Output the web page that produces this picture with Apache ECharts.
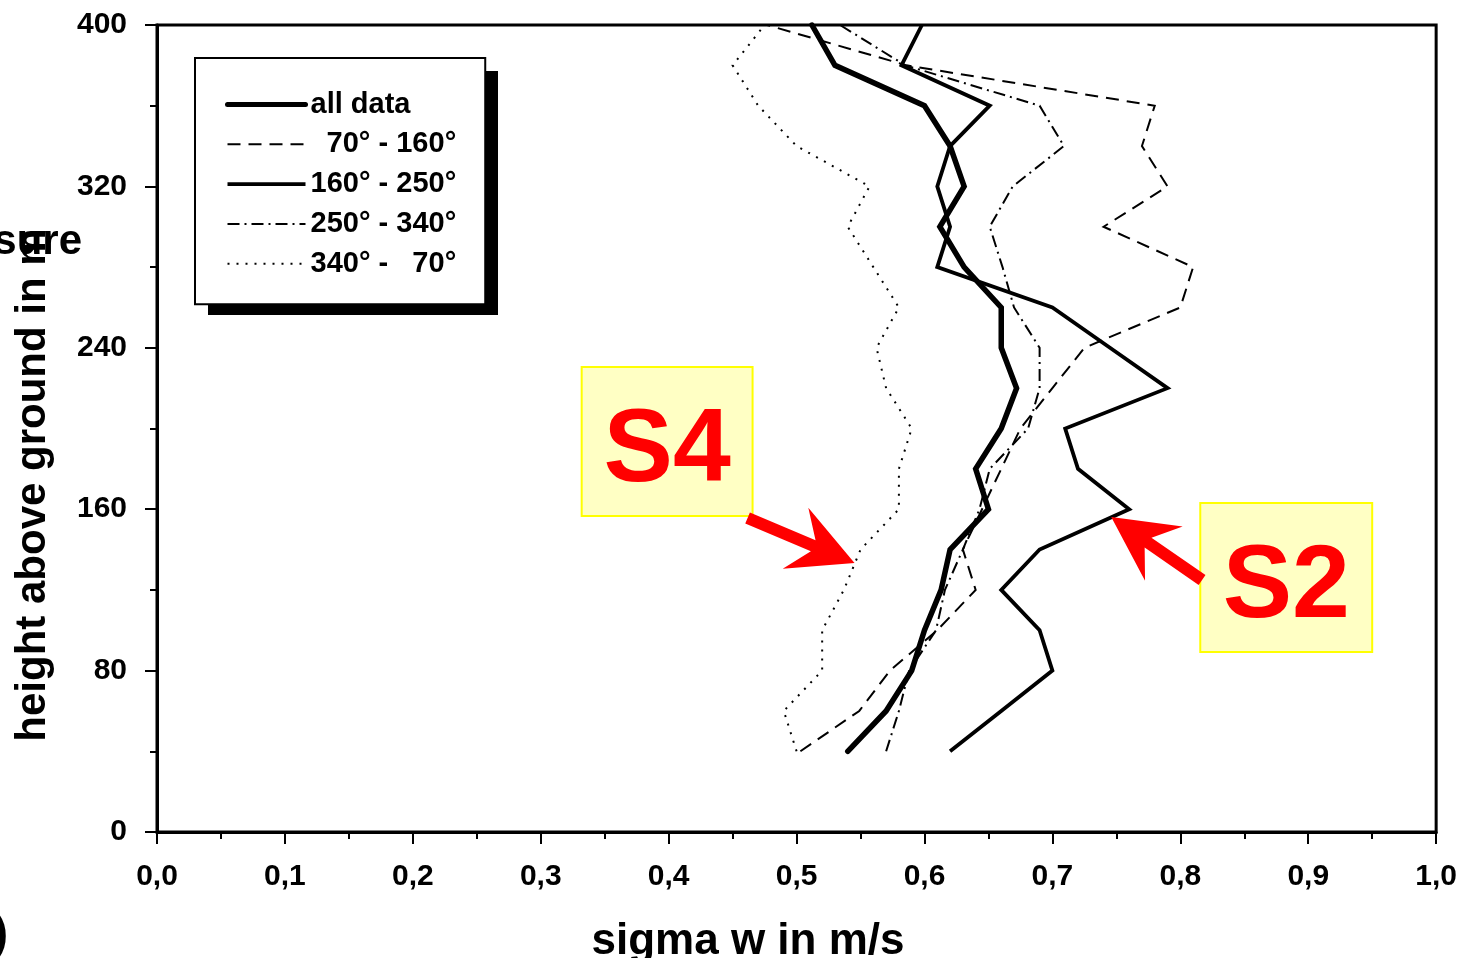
<!DOCTYPE html>
<html>
<head>
<meta charset="utf-8">
<script src="https://cdn.jsdelivr.net/npm/echarts@6/dist/echarts.min.js"></script>
<style>
  html, body { margin: 0; padding: 0; background: #fff; }
  #chart { width: 1460px; height: 958px; }
</style>
</head>
<body>
<div id="chart"></div>
<script>
// heights in m, one value per profile level
const heights = [40, 60, 80, 100, 120, 140, 160, 180, 200, 220, 240, 260, 280, 300, 320, 340, 360, 380, 400];

// sigma w (m/s) per height
const allData    = [0.54, 0.57, 0.59, 0.60, 0.613, 0.62, 0.65, 0.64, 0.66, 0.672, 0.66, 0.66, 0.631, 0.612, 0.631, 0.62, 0.60, 0.53, 0.512];
const dir70_160  = [0.503, 0.549, 0.573, 0.61, 0.64, 0.63, 0.645, 0.66, 0.675, 0.70, 0.725, 0.80, 0.81, 0.74, 0.79, 0.77, 0.78, 0.586, 0.477];
const dir160_250 = [0.62, 0.66, 0.70, 0.69, 0.66, 0.69, 0.76, 0.72, 0.71, 0.79, 0.745, 0.70, 0.61, 0.62, 0.61, 0.62, 0.651, 0.582, 0.598];
const dir250_340 = [0.57, 0.58, 0.588, 0.609, 0.616, 0.63, 0.643, 0.651, 0.681, 0.69, 0.69, 0.67, 0.661, 0.651, 0.669, 0.709, 0.69, 0.585, 0.534];
const dir340_70  = [0.50, 0.49, 0.52, 0.52, 0.537, 0.55, 0.58, 0.58, 0.59, 0.57, 0.5625, 0.58, 0.56, 0.54, 0.557, 0.50, 0.47, 0.45, 0.475];

const seriesNames = ["all data", "  70° - 160°", "160° - 250°", "250° - 340°", "340° -   70°"];
const lineWidths = [5.5, 2, 3.8, 2, 2];
const lineTypes = ["solid", [13, 8], "solid", [12, 5, 2, 5], [2, 7]];

// annotations in data units: box corners, arrow tail -> tip
const labelS4 = { text: "S4", box: [0.332, 230.5, 0.4656, 156.6], tail: [0.4617, 155.6], tip: [0.5453, 133.3] };
const labelS2 = { text: "S2", box: [0.8156, 163.1, 0.95, 89.2], tail: [0.817, 124.9], tip: [0.746, 156.1] };

const font = "'Liberation Sans', Arial, sans-serif";

function pairs(xs) {
  return heights.map((h, i) => [xs[i], h]);
}

function lineSeries(i, values) {
  return {
    name: seriesNames[i],
    type: "line",
    symbol: "none",
    data: pairs(values),
    lineStyle: { color: "#000", width: lineWidths[i], type: lineTypes[i], cap: i === 0 ? "round" : "butt", join: "miter" },
    itemStyle: { color: "#000" },
    z: 3
  };
}

const chart = echarts.init(document.getElementById("chart"));

chart.setOption({
  animation: false,
  backgroundColor: "#fff",
  grid: {
    left: 157, right: 23, top: 25, bottom: 126,
    show: true, borderColor: "#000", borderWidth: 3, backgroundColor: "transparent"
  },
  legend: {
    orient: "vertical",
    left: 195, top: 58,
    padding: [32, 29, 26, 30],
    itemGap: 10.8, itemWidth: 78, itemHeight: 30,
    backgroundColor: "#fff", borderColor: "#000", borderWidth: 2,
    selectedMode: false,
    z: 6,
    textStyle: { fontSize: 29, fontWeight: "bold", color: "#000", fontFamily: font },
    data: seriesNames.map((n, i) => ({
      name: n,
      itemStyle: { color: "rgba(0,0,0,0)", borderWidth: 0, opacity: 0 },
      lineStyle: { color: "#000", width: i === 0 ? 5 : lineWidths[i], type: lineTypes[i] }
    }))
  },
  xAxis: {
    type: "value", min: 0, max: 1, interval: 0.1,
    axisLine: { lineStyle: { color: "#000", width: 3 } },
    axisTick: { inside: false, length: 12, lineStyle: { color: "#000", width: 2 } },
    minorTick: { show: true, splitNumber: 2, length: 7, lineStyle: { color: "#000", width: 2 } },
    splitLine: { show: false },
    axisLabel: {
      margin: 30, color: "#000", fontSize: 30, fontWeight: "bold", fontFamily: font,
      formatter: v => v.toFixed(1).replace(".", ",")
    }
  },
  yAxis: {
    type: "value", min: 0, max: 400, interval: 80,
    axisLine: { lineStyle: { color: "#000", width: 3 } },
    axisTick: { inside: false, length: 12, lineStyle: { color: "#000", width: 2 } },
    minorTick: { show: true, splitNumber: 2, length: 7, lineStyle: { color: "#000", width: 2 } },
    splitLine: { show: false },
    axisLabel: { margin: 30, color: "#000", fontSize: 30, fontWeight: "bold", fontFamily: font }
  },
  series: [
    lineSeries(0, allData),
    lineSeries(1, dir70_160),
    lineSeries(2, dir160_250),
    lineSeries(3, dir250_340),
    lineSeries(4, dir340_70)
  ]
});

// arrow polygon from tail to tip with swept-back head
function arrowPoints(t, p, shaftW, headLen, headW) {
  const dx = p[0] - t[0], dy = p[1] - t[1];
  const len = Math.sqrt(dx * dx + dy * dy);
  const ux = dx / len, uy = dy / len;
  const nx = -uy, ny = ux;
  const c = [p[0] - ux * headLen, p[1] - uy * headLen];
  const k = [p[0] - ux * headLen * 0.7, p[1] - uy * headLen * 0.7];
  const s = shaftW / 2;
  return [
    [t[0] + nx * s, t[1] + ny * s],
    [k[0] + nx * s, k[1] + ny * s],
    [c[0] + nx * headW, c[1] + ny * headW],
    p,
    [c[0] - nx * headW, c[1] - ny * headW],
    [k[0] - nx * s, k[1] - ny * s],
    [t[0] - nx * s, t[1] - ny * s]
  ];
}

function annotation(a) {
  const p0 = chart.convertToPixel({ gridIndex: 0 }, [a.box[0], a.box[1]]);
  const p1 = chart.convertToPixel({ gridIndex: 0 }, [a.box[2], a.box[3]]);
  const tail = chart.convertToPixel({ gridIndex: 0 }, a.tail);
  const tip = chart.convertToPixel({ gridIndex: 0 }, a.tip);
  return [
    {
      type: "rect", z: 10,
      shape: { x: p0[0], y: p0[1], width: p1[0] - p0[0], height: p1[1] - p0[1] },
      style: { fill: "#ffffc4", stroke: "#ffff00", lineWidth: 2 }
    },
    {
      type: "text", z: 11,
      x: (p0[0] + p1[0]) / 2, y: (p0[1] + p1[1]) / 2 + 11,
      style: {
        text: a.text, fill: "#ff0000", font: "bold 104px " + font,
        textAlign: "center", textVerticalAlign: "middle"
      }
    },
    {
      type: "polygon", z: 11,
      shape: { points: arrowPoints(tail, tip, 12, 64, 33) },
      style: { fill: "#ff0000" }
    }
  ];
}

chart.setOption({
  graphic: [
    {
      // hard drop shadow behind the legend box
      type: "rect", z: 5,
      shape: { x: 208, y: 71, width: 290, height: 244 },
      style: { fill: "#000" }
    },
    {
      type: "text", x: 748, y: 942,
      style: {
        text: "sigma w in m/s", fill: "#000", font: "bold 44px " + font,
        textAlign: "center", textVerticalAlign: "middle"
      }
    },
    {
      type: "text", x: 33, y: 485, rotation: Math.PI / 2,
      style: {
        text: "height above ground in m", fill: "#000", font: "bold 42px " + font,
        textAlign: "center", textVerticalAlign: "middle"
      }
    },
    {
      type: "text", x: 82, y: 242,
      style: { text: "sure", fill: "#000", font: "bold 42px " + font, textAlign: "right", textVerticalAlign: "middle" }
    },
    {
      type: "text", x: 8, y: 935,
      style: { text: ")", fill: "#000", font: "bold 46px " + font, textAlign: "right", textVerticalAlign: "middle" }
    }
  ].concat(annotation(labelS4), annotation(labelS2))
});
</script>
</body>
</html>
